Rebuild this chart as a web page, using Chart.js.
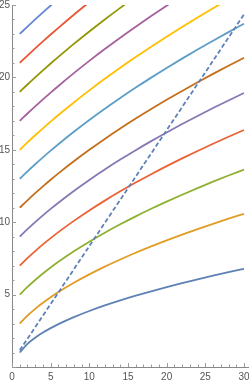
<!DOCTYPE html>
<html><head><meta charset="utf-8">
<script src="https://cdn.jsdelivr.net/npm/chart.js@4"></script>
<style>html,body{margin:0;padding:0;background:#fff}#wrap{width:249px;height:382px}</style>
</head><body><div id="wrap"><canvas id="c" width="249" height="382"></canvas></div>
<script>
const xs = [1,2,3,4,5,6,8,10,12,14,16,18,20,22,24,26,28,30];
const curve1  = [1,1.597,2.025,2.377,2.683,2.958,3.442,3.867,4.249,4.599,4.924,5.230,5.518,5.792,6.054,6.305,6.546,6.779];
const curve3  = [3,3.543,4.012,4.433,4.817,5.172,5.818,6.399,6.932,7.426,7.890,8.328,8.744,9.141,9.521,9.887,10.240,10.581];
const curve5  = [5,5.527,6.008,6.454,6.870,7.263,7.991,8.657,9.276,9.856,10.404,10.925,11.421,11.897,12.355,12.797,13.223,13.636];
const curve7  = [7,7.520,8.006,8.465,8.899,9.314,10.092,10.814,11.491,12.131,12.738,13.317,13.873,14.407,14.921,15.419,15.901,16.369];
const curve9  = [9,9.516,10.005,10.471,10.918,11.347,12.159,12.921,13.640,14.323,14.975,15.600,16.200,16.779,17.339,17.882,18.408,18.920];
const curve11 = [11,11.513,12.004,12.476,12.931,13.370,14.207,14.998,15.750,16.467,17.154,17.814,18.451,19.067,19.664,20.242,20.805,21.353];
const curve13 = [13,13.511,14.004,14.479,14.940,15.387,16.244,17.057,17.834,18.578,19.294,19.984,20.651,21.297,21.924,22.533,23.127,23.706];
const curve15 = [15,15.510,16.003,16.482,16.947,17.400,18.272,19.104,19.901,20.668,21.407,22.121,22.813,23.485,24.138,24.774,25.394];
const curve17 = [17,17.509,18.003,18.484,18.953,19.410,20.294,21.141,21.956,22.741,23.500,24.235,24.949,25.643];
const curve19 = [19,19.508,20.002,20.485,20.957,21.418,22.313,23.172,24.001,24.802,25.578];
const curve21 = [21,21.507,22.002,22.487,22.961,23.425,24.328,25.198];
const curve23 = [23,23.506,24.002,24.488,24.964,25.431];
const diagX = [1,30];
const diagY = [1.15,24.35];
const xTicks = [0,5,10,15,20,25,30];
const yTicks = [0,5,10,15,20,25];

const curves = [curve1,curve3,curve5,curve7,curve9,curve11,curve13,curve15,curve17,curve19,curve21,curve23];
const colors = ['#5E81B5','#E19C24','#8FB032','#EB6235','#8778B3','#C56E1A','#5D9EC7','#FFBF00','#A5609D','#929600','#E95536','#6685D9'];

const datasets = curves.map((c,i)=>({
  data: c.map((v,j)=>({x:xs[j],y:v})),
  borderColor: colors[i], borderWidth: 1.8, pointRadius: 0,
  cubicInterpolationMode: 'monotone', fill:false, order: 1
}));
datasets.push({
  data: diagX.map((v,j)=>({x:v,y:diagY[j]})),
  borderColor: '#5E81B5', borderWidth: 1.8, borderDash:[4.5,2.5], pointRadius:0, fill:false, order:0
});

const tickPlugin = {
  id:'minorTicks',
  afterDraw(chart){
    const {ctx, scales:{x,y}, chartArea:a} = chart;
    ctx.save(); ctx.strokeStyle='#9a9a9a'; ctx.lineWidth=1;
    for(let v=0; v<=30; v++){
      const px = Math.round(x.getPixelForValue(v))+0.5; const len = v%5===0?4:2.5;
      ctx.beginPath(); ctx.moveTo(px,a.bottom); ctx.lineTo(px,a.bottom-len); ctx.stroke();
    }
    for(let v=0; v<=25; v++){
      const py = Math.round(y.getPixelForValue(v))+0.5; const len = v%5===0?4:2.5;
      ctx.beginPath(); ctx.moveTo(a.left,py); ctx.lineTo(a.left+len,py); ctx.stroke();
    }
    ctx.restore();
  }
};

new Chart(document.getElementById('c'), {
  type:'line',
  data:{datasets},
  plugins:[tickPlugin],
  options:{
    responsive:false, animation:false, devicePixelRatio:1,
    layout:{padding:{top:5,right:0,left:0,bottom:0}, autoPadding:false},
    plugins:{legend:{display:false}, tooltip:{enabled:false}},
    scales:{
      x:{type:'linear', min:0, max:30.65,
        afterBuildTicks(s){ s.ticks = xTicks.map(v=>({value:v})); },
        afterFit(s){ s.height = 15; s.paddingLeft=0; s.paddingRight=0; },
        grid:{display:false, drawTicks:false}, border:{display:true,color:'#888',width:1},
        ticks:{padding:4, color:'#555', font:{family:'Liberation Sans', size:10}, maxRotation:0, autoSkip:false}
      },
      y:{type:'linear', min:0, max:25,
        afterBuildTicks(s){ s.ticks = yTicks.map(v=>({value:v})); },
        afterFit(s){ s.width = 12; s.paddingTop=0; s.paddingBottom=0; },
        grid:{display:false, drawTicks:false}, border:{display:true,color:'#888',width:1},
        ticks:{padding:2, color:'#555', font:{family:'Liberation Sans', size:10}, autoSkip:false,
          callback:(v)=> v===0 ? '' : String(v)}
      }
    }
  }
});
</script></body></html>
